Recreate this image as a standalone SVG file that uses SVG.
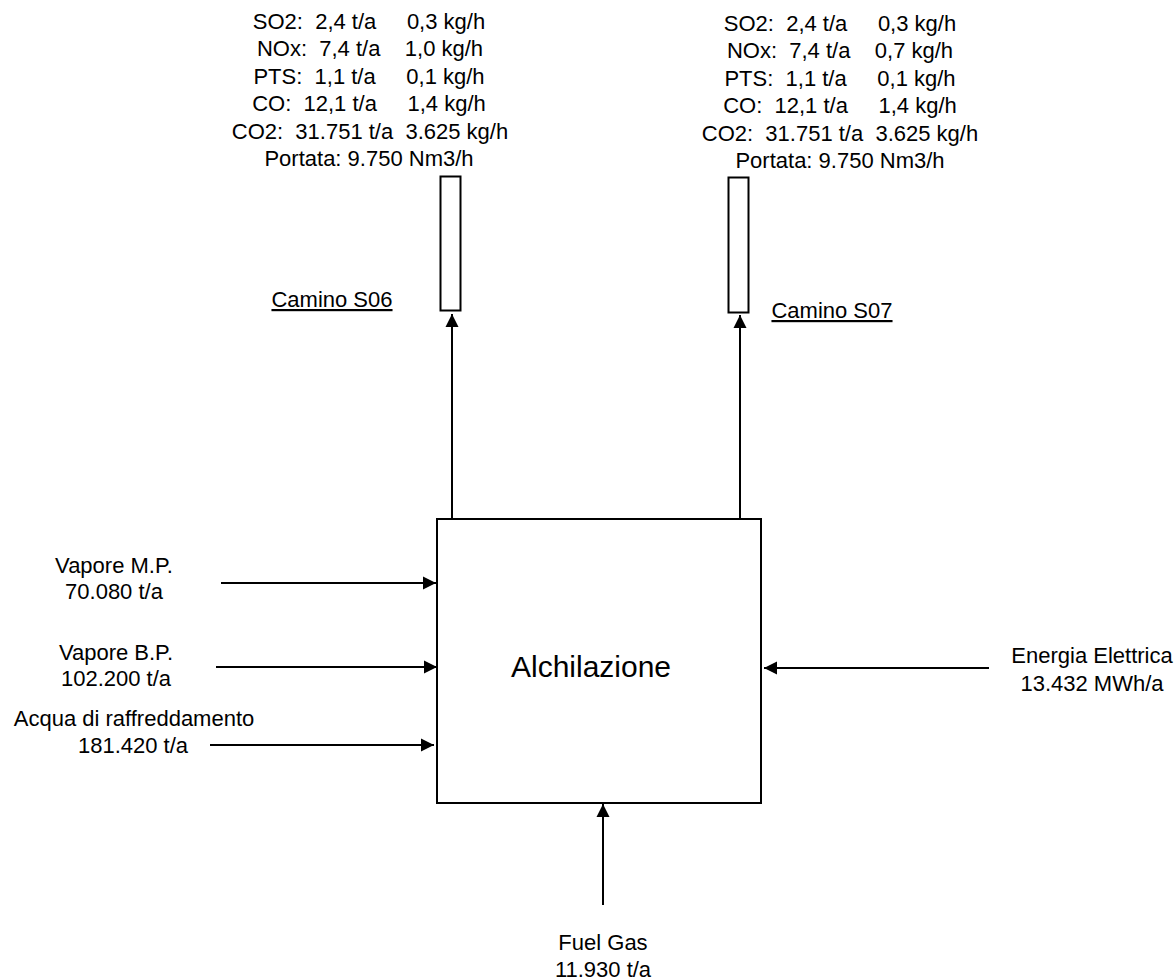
<svg xmlns="http://www.w3.org/2000/svg" width="1176" height="980" viewBox="0 0 1176 980">
<style>
text{font-family:"Liberation Sans",Arial,sans-serif;font-size:22px;fill:#000;text-anchor:middle;white-space:pre}
.big{font-size:30px}
.u{text-decoration:underline}
.box{fill:#fff;stroke:#000;stroke-width:2}
.ln{fill:none;stroke:#000;stroke-width:2}
</style>
<defs>
<marker id="ah" markerUnits="userSpaceOnUse" markerWidth="14" markerHeight="14" viewBox="0 0 14 14" refX="13" refY="7" orient="auto">
<path d="M0,0.5 L13,7 L0,13.5 Z" fill="#000"/>
</marker>
</defs>
<rect width="1176" height="980" fill="#fff"/>
<g id="connectors">
<line class="ln" x1="452" y1="518" x2="452" y2="314" marker-end="url(#ah)"/>
<line class="ln" x1="740" y1="518" x2="740" y2="315" marker-end="url(#ah)"/>
<line class="ln" x1="221" y1="583" x2="436" y2="583" marker-end="url(#ah)"/>
<line class="ln" x1="216" y1="667" x2="437" y2="667" marker-end="url(#ah)"/>
<line class="ln" x1="210" y1="745" x2="434" y2="745" marker-end="url(#ah)"/>
<line class="ln" x1="989" y1="668" x2="764" y2="668" marker-end="url(#ah)"/>
<line class="ln" x1="603" y1="905" x2="603" y2="804" marker-end="url(#ah)"/>
</g>
<g id="alchilazione">
<rect class="box" x="437" y="519" width="324" height="284"/>
<text class="big" x="591" y="677">Alchilazione</text>
</g>
<g id="camino-s06">
<rect class="box" x="440.5" y="176.5" width="20" height="134"/>
<text class="u" x="332" y="307">Camino S06</text>
</g>
<g id="camino-s07">
<rect class="box" x="728.5" y="177.5" width="20" height="135"/>
<text class="u" x="832" y="318">Camino S07</text>
</g>
<g id="emissioni-s06">
<text x="369" y="29">SO2:  2,4 t/a     0,3 kg/h</text>
<text x="370" y="56">NOx:  7,4 t/a    1,0 kg/h</text>
<text x="369" y="84">PTS:  1,1 t/a     0,1 kg/h</text>
<text x="369" y="111">CO:  12,1 t/a     1,4 kg/h</text>
<text x="370" y="139">CO2:  31.751 t/a  3.625 kg/h</text>
<text x="369" y="166">Portata: 9.750 Nm3/h</text>
</g>
<g id="emissioni-s07">
<text x="840" y="31">SO2:  2,4 t/a     0,3 kg/h</text>
<text x="840" y="58">NOx:  7,4 t/a    0,7 kg/h</text>
<text x="840" y="86">PTS:  1,1 t/a     0,1 kg/h</text>
<text x="840" y="113">CO:  12,1 t/a     1,4 kg/h</text>
<text x="840" y="141">CO2:  31.751 t/a  3.625 kg/h</text>
<text x="840" y="168">Portata: 9.750 Nm3/h</text>
</g>
<g id="vapore-mp">
<text x="114" y="573">Vapore M.P.</text>
<text x="114" y="599">70.080 t/a</text>
</g>
<g id="vapore-bp">
<text x="116" y="660">Vapore B.P.</text>
<text x="116" y="686">102.200 t/a</text>
</g>
<g id="acqua">
<text x="134" y="726">Acqua di raffreddamento</text>
<text x="133" y="753">181.420 t/a</text>
</g>
<g id="energia">
<text x="1092" y="663">Energia Elettrica</text>
<text x="1092" y="691">13.432 MWh/a</text>
</g>
<g id="fuel-gas">
<text x="603" y="950">Fuel Gas</text>
<text x="603" y="977">11.930 t/a</text>
</g>
</svg>
